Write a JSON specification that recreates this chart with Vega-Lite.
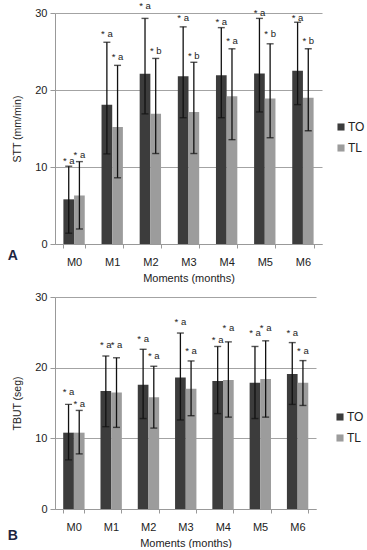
{
  "$schema": "https://vega.github.io/schema/vega-lite/v6.json",
  "padding": {"left": 7, "top": 0, "right": 0, "bottom": 0},
  "config": {
    "font": "Liberation Sans",
    "view": {"stroke": null},
    "axis": {
      "labelFont": "Liberation Sans", "titleFont": "Liberation Sans",
      "labelColor": "#222", "titleColor": "#222",
      "domainColor": "#999", "tickColor": "#999", "gridColor": "#a3a3a3",
      "labelFontSize": 11, "titleFontSize": 11, "titleFontWeight": "normal"
    },
    "legend": {
      "labelFont": "Liberation Sans", "labelFontSize": 12, "labelColor": "#222",
      "symbolType": "square", "symbolSize": 50, "symbolStrokeWidth": 0,
      "rowPadding": 9, "labelOffset": 1, "padding": 0
    }
  },
  "datasets": {
    "stt": [
      {"month": "M0", "group": "TO", "mean": 5.8, "lo": 1.4, "hi": 10.1, "label": "* a", "ly": 10.8},
      {"month": "M0", "group": "TL", "mean": 6.3, "lo": 1.95, "hi": 10.7, "label": "* a", "ly": 11.6},
      {"month": "M1", "group": "TO", "mean": 18.1, "lo": 11.7, "hi": 26.2, "label": "* a", "ly": 27.3},
      {"month": "M1", "group": "TL", "mean": 15.2, "lo": 8.6, "hi": 23.2, "label": "* a", "ly": 24.3},
      {"month": "M2", "group": "TO", "mean": 22.1, "lo": 16.9, "hi": 29.3, "label": "* a", "ly": 30.95},
      {"month": "M2", "group": "TL", "mean": 16.9, "lo": 11.75, "hi": 24.1, "label": "* b", "ly": 25.1},
      {"month": "M3", "group": "TO", "mean": 21.8, "lo": 16.4, "hi": 28.2, "label": "* a", "ly": 29.4},
      {"month": "M3", "group": "TL", "mean": 17.15, "lo": 11.75, "hi": 23.6, "label": "* b", "ly": 24.4},
      {"month": "M4", "group": "TO", "mean": 21.9, "lo": 16.4, "hi": 28.1, "label": "* a", "ly": 28.8},
      {"month": "M4", "group": "TL", "mean": 19.2, "lo": 13.55, "hi": 25.35, "label": "* a", "ly": 26.4},
      {"month": "M5", "group": "TO", "mean": 22.15, "lo": 17.15, "hi": 29.3, "label": "* a", "ly": 30.0},
      {"month": "M5", "group": "TL", "mean": 18.9, "lo": 13.8, "hi": 26.0, "label": "* b", "ly": 27.3},
      {"month": "M6", "group": "TO", "mean": 22.5, "lo": 18.1, "hi": 28.8, "label": "* a", "ly": 29.3},
      {"month": "M6", "group": "TL", "mean": 19.0, "lo": 14.7, "hi": 25.35, "label": "* b", "ly": 26.4}
    ],
    "tbut": [
      {"month": "M0", "group": "TO", "mean": 10.8, "lo": 6.95, "hi": 14.8, "label": "* a", "ly": 16.6},
      {"month": "M0", "group": "TL", "mean": 10.8, "lo": 7.8, "hi": 13.95, "label": "* a", "ly": 14.9},
      {"month": "M1", "group": "TO", "mean": 16.7, "lo": 11.65, "hi": 21.65, "label": "* a", "ly": 23.2},
      {"month": "M1", "group": "TL", "mean": 16.5, "lo": 11.55, "hi": 21.4, "label": "* a", "ly": 23.2},
      {"month": "M2", "group": "TO", "mean": 17.6, "lo": 12.8, "hi": 22.6, "label": "* a", "ly": 24.0},
      {"month": "M2", "group": "TL", "mean": 15.8, "lo": 11.45, "hi": 20.2, "label": "* a", "ly": 21.6},
      {"month": "M3", "group": "TO", "mean": 18.6, "lo": 12.6, "hi": 24.9, "label": "* a", "ly": 26.4},
      {"month": "M3", "group": "TL", "mean": 17.0, "lo": 13.2, "hi": 20.95, "label": "* a", "ly": 22.3},
      {"month": "M4", "group": "TO", "mean": 18.1, "lo": 13.5, "hi": 23.0, "label": "* a", "ly": 23.9},
      {"month": "M4", "group": "TL", "mean": 18.25, "lo": 13.0, "hi": 23.65, "label": "* a", "ly": 25.6},
      {"month": "M5", "group": "TO", "mean": 17.85, "lo": 12.8, "hi": 23.0, "label": "* a", "ly": 24.85},
      {"month": "M5", "group": "TL", "mean": 18.4, "lo": 13.0, "hi": 23.8, "label": "* a", "ly": 25.6},
      {"month": "M6", "group": "TO", "mean": 19.1, "lo": 14.8, "hi": 23.55, "label": "* a", "ly": 24.85},
      {"month": "M6", "group": "TL", "mean": 17.85, "lo": 14.65, "hi": 21.0, "label": "* a", "ly": 22.3}
    ]
  },
  "resolve": {"legend": {"color": "independent"}},
  "spacing": 8,
  "vconcat": [
    {
      "width": 267, "height": 231,
      "title": {"text": "A", "orient": "bottom", "anchor": "start", "frame": "bounds", "dx": -5, "dy": -38, "fontSize": 14, "fontWeight": "bold", "color": "#1c2541"},
      "data": {"name": "stt"},
      "encoding": {
        "x": {"field": "month", "type": "nominal", "scale": {"paddingInner": 0.44, "paddingOuter": 0.22},
              "axis": {"title": "Moments (months)", "labelAngle": 0, "tickBand": "extent", "tickSize": 4, "labelPadding": 8, "titlePadding": 5, "grid": false}},
        "xOffset": {"field": "group", "type": "nominal", "sort": ["TO", "TL"]}
      },
      "layer": [
        {"mark": {"type": "bar", "width": {"band": 1}},
         "encoding": {
           "y": {"field": "mean", "type": "quantitative", "scale": {"domain": [0, 30], "nice": false},
                 "axis": {"title": "STT (mm/min)", "titleFontSize": 10.5, "values": [0, 5, 10, 15, 20, 25, 30], "grid": true, "tickSize": 5, "labelPadding": 3, "titlePadding": 12}},
           "color": {"field": "group", "type": "nominal", "sort": ["TO", "TL"],
                     "scale": {"domain": ["TO", "TL"], "range": ["#3c3c3c", "#9c9c9c"]},
                     "legend": {"title": null, "orient": "none", "legendX": 280, "legendY": 108}}
         }},
        {"mark": {"type": "rule", "color": "#111", "strokeWidth": 1.3},
         "encoding": {"y": {"field": "lo", "type": "quantitative", "scale": {"domain": [0, 30], "nice": false}, "title": "STT (mm/min)"}, "y2": {"field": "hi"}}},
        {"mark": {"type": "tick", "orient": "horizontal", "size": 7, "thickness": 1.4, "color": "#111"},
         "encoding": {"y": {"field": "lo", "type": "quantitative", "scale": {"domain": [0, 30], "nice": false}, "title": "STT (mm/min)"}}},
        {"mark": {"type": "tick", "orient": "horizontal", "size": 7, "thickness": 1.4, "color": "#111"},
         "encoding": {"y": {"field": "hi", "type": "quantitative", "scale": {"domain": [0, 30], "nice": false}, "title": "STT (mm/min)"}}},
        {"mark": {"type": "text", "fontSize": 9.5, "baseline": "middle", "color": "#222"},
         "encoding": {"y": {"field": "ly", "type": "quantitative", "scale": {"domain": [0, 30], "nice": false}, "title": "STT (mm/min)"}, "text": {"field": "label"}}}
      ]
    },
    {
      "width": 261, "height": 212,
      "title": {"text": "B", "orient": "bottom", "anchor": "start", "frame": "bounds", "dx": -5, "dy": -23, "fontSize": 14, "fontWeight": "bold", "color": "#1c2541"},
      "data": {"name": "tbut"},
      "encoding": {
        "x": {"field": "month", "type": "nominal", "scale": {"paddingInner": 0.44, "paddingOuter": 0.22},
              "axis": {"title": "Moments (months)", "labelAngle": 0, "tickBand": "extent", "tickSize": 4, "labelPadding": 8, "titlePadding": 5, "grid": false}},
        "xOffset": {"field": "group", "type": "nominal", "sort": ["TO", "TL"]}
      },
      "layer": [
        {"mark": {"type": "bar", "width": {"band": 1}},
         "encoding": {
           "y": {"field": "mean", "type": "quantitative", "scale": {"domain": [0, 30], "nice": false},
                 "axis": {"title": "TBUT (seg)", "titleFontSize": 10.5, "values": [0, 5, 10, 15, 20, 25, 30], "grid": true, "tickSize": 5, "labelPadding": 3, "titlePadding": 12}},
           "color": {"field": "group", "type": "nominal", "sort": ["TO", "TL"],
                     "scale": {"domain": ["TO", "TL"], "range": ["#3c3c3c", "#9c9c9c"]},
                     "legend": {"title": null, "orient": "none", "legendX": 279, "legendY": 114}}
         }},
        {"mark": {"type": "rule", "color": "#111", "strokeWidth": 1.3},
         "encoding": {"y": {"field": "lo", "type": "quantitative", "scale": {"domain": [0, 30], "nice": false}, "title": "TBUT (seg)"}, "y2": {"field": "hi"}}},
        {"mark": {"type": "tick", "orient": "horizontal", "size": 7, "thickness": 1.4, "color": "#111"},
         "encoding": {"y": {"field": "lo", "type": "quantitative", "scale": {"domain": [0, 30], "nice": false}, "title": "TBUT (seg)"}}},
        {"mark": {"type": "tick", "orient": "horizontal", "size": 7, "thickness": 1.4, "color": "#111"},
         "encoding": {"y": {"field": "hi", "type": "quantitative", "scale": {"domain": [0, 30], "nice": false}, "title": "TBUT (seg)"}}},
        {"mark": {"type": "text", "fontSize": 9.5, "baseline": "middle", "color": "#222"},
         "encoding": {"y": {"field": "ly", "type": "quantitative", "scale": {"domain": [0, 30], "nice": false}, "title": "TBUT (seg)"}, "text": {"field": "label"}}}
      ]
    }
  ]
}
